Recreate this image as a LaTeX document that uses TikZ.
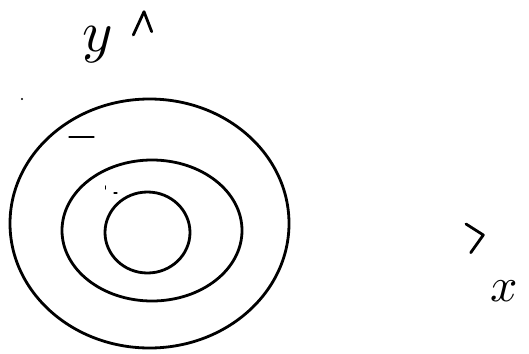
\documentclass[tikz,border=0pt]{standalone}
\usetikzlibrary{calc}
\definecolor{ink}{HTML}{000000}

\begin{document}
\begin{tikzpicture}[
  x=1pt, y=-1pt,
  stroke/.style={draw=ink, line width=2.8pt, line cap=round, line join=round},
  ring/.style={draw=ink, line width=2.8pt},
  speck/.style={draw=ink, line width=1.3pt, line cap=round},
  hand/.style={text=ink, inner sep=0pt}
]
\useasboundingbox (0,0) rectangle (529,353);

% Rings round one centre
\draw[ring] (149.5,223.5) ellipse [x radius=139.5, y radius=124.5];
\draw[ring] (152,230.5) ellipse [x radius=90, y radius=70.5];
\draw[ring] (147.5,232.5) ellipse [x radius=42.5, y radius=40.5];

% Axis tips and their letters
\coordinate (ytip) at (144,11.7);
\coordinate (xtip) at (483.3,235);
\draw[stroke] ($(ytip)+(-10.7,23.3)$) -- (ytip) -- ($(ytip)+(7.7,20)$);
\draw[stroke] ($(xtip)+(-17.3,-11)$) -- (xtip) -- ($(xtip)+(-12.6,17.7)$);
\node[hand, scale=5.8] (ylabel) at (98,45) {$y$};
\node[hand, scale=4.8] (xlabel) at (504,291) {$x$};

% Stray marks
\fill[ink] (22,99) circle (1.2);
\draw[speck] (69,137) -- (94,137);
\draw[speck] (105.7,186) -- (105.7,189);
\draw[speck] (114,193) -- (117,193);

\end{tikzpicture}
\end{document}
